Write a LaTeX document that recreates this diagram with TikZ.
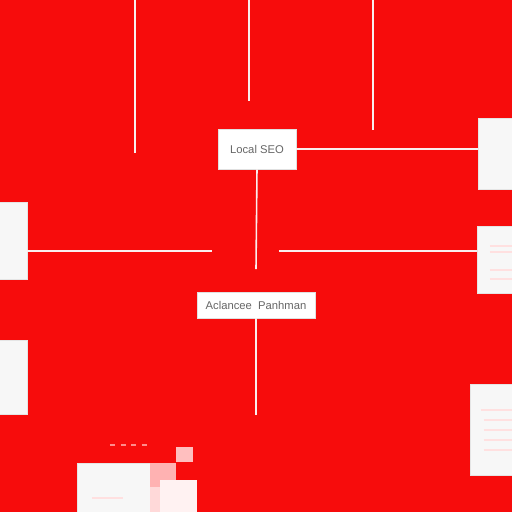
\documentclass[tikz,border=0pt]{standalone}
\usepackage{fontspec}
\setsansfont{Liberation Sans}
\definecolor{bgred}{RGB}{247,12,12}
\definecolor{wireline}{RGB}{250,238,238}
\begin{document}
\begin{tikzpicture}[x=0.02cm,y=-0.02cm,
  lbl/.style={draw=black!12,fill=white,text=black!60,font=\sffamily\fontsize{6.4}{8}\selectfont,inner sep=0pt},
  card/.style={fill=white!97!black,draw=black!10,inner sep=0pt},
  wire/.style={draw=wireline,line width=0.9pt},
  txtline/.style={draw=red!12,line width=1.2pt}]
\useasboundingbox[fill=bgred] (0,0) rectangle (512,512);
\clip (0,0) rectangle (512,512);
% top lines
\coordinate (t1) at (135,0);
\coordinate (t2) at (249,0);
\coordinate (t3) at (373,0);
\coordinate (e1) at (135,153);
\coordinate (e2) at (249,101);
\coordinate (e3) at (373,130);
\draw[wire] (t1) -- (e1);
\draw[wire] (t2) -- (e2);
\draw[wire] (t3) -- (e3);
% labels
\node[lbl,minimum width=1.56cm,minimum height=0.8cm] (seo) at (257,149) {Local SEO};
\node[lbl,minimum width=2.36cm,minimum height=0.52cm] (pan) at (256,305) {Aclancee\ \ Panhman};
% side cards
\node[card,minimum width=0.84cm,minimum height=1.42cm] (r1) at (499,153.5) {};
\node[card,minimum width=0.86cm,minimum height=1.34cm] (r2) at (498.5,259.5) {};
\node[card,minimum width=1.00cm,minimum height=1.82cm] (r3) at (495,429.5) {};
\node[card,minimum width=0.70cm,minimum height=1.54cm] (l1) at (9.5,240.5) {};
\node[card,minimum width=0.70cm,minimum height=1.48cm] (l2) at (9.5,377) {};
\node[card,minimum width=1.46cm,minimum height=1.14cm] (b1) at (113.5,491.5) {};
% faint contents
\draw[txtline] (490,246) -- (512,246);
\draw[txtline] (490,252) -- (512,252);
\draw[txtline] (490,270) -- (512,270);
\draw[txtline] (490,279) -- (512,279);
\draw[txtline] (481,410) -- (512,410);
\draw[txtline] (484,420) -- (512,420);
\draw[txtline] (484,430) -- (512,430);
\draw[txtline] (484,440) -- (512,440);
\draw[txtline] (484,450) -- (512,450);
\fill[red!30] (150,463) rectangle (176,487);
\fill[red!25] (176,447) rectangle (193,462);
\fill[white!95!red] (160,480) rectangle (197,512);
\fill[red!15] (150,487) rectangle (160,512);
\draw[draw=red!45,line width=1pt,dashed] (110,445) -- (150,445);
\draw[txtline] (92,498) -- (123,498);
% connectors
\coordinate (m1) at (212,251);
\coordinate (m2) at (279,251);
\coordinate (m3) at (256,269);
\coordinate (m4) at (256,415);
\draw[wire] (seo.east) -- (seo.east -| r1.west);
\draw[wire] (seo.south) -- (m3);
\draw[wire] (l1.east |- m1) -- (m1);
\draw[wire] (m2) -- (m2 -| r2.west);
\draw[wire] (pan.south) -- (m4);
\end{tikzpicture}
\end{document}
